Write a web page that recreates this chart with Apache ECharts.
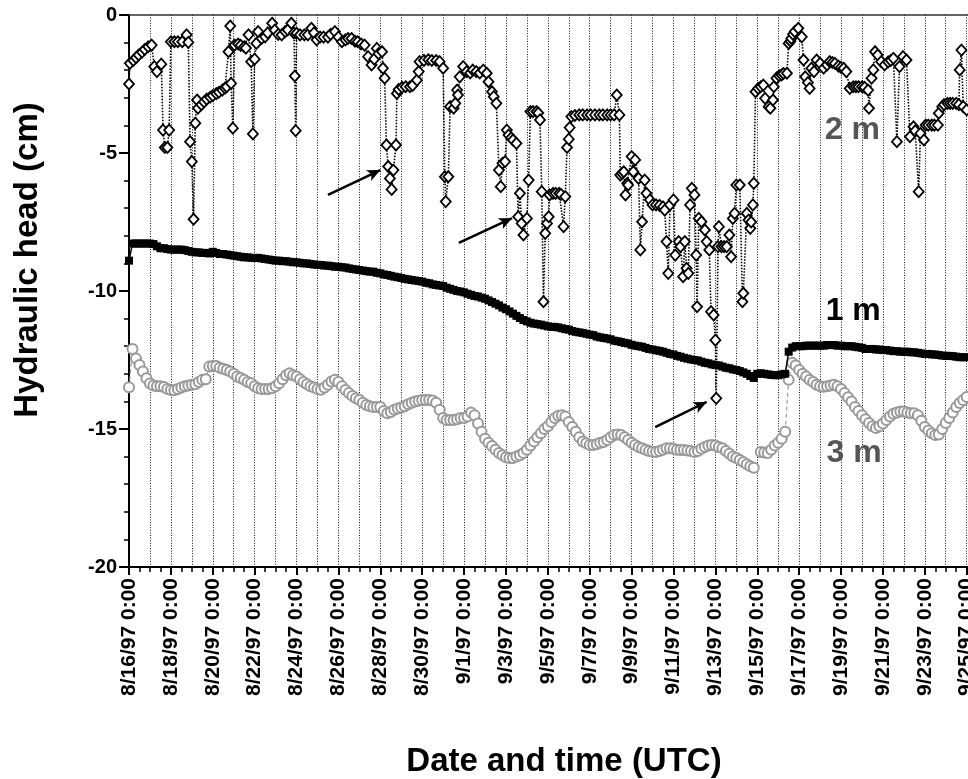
<!DOCTYPE html>
<html><head><meta charset="utf-8">
<script src="https://cdn.jsdelivr.net/npm/echarts@6/dist/echarts.min.js"></script>
<style>html,body{margin:0;padding:0;background:#fff}#c{width:968px;height:779px}</style>
</head><body><div id="c"></div>
<script>
// ---------- data (hours since 8/16/97 0:00 UTC) ----------
const STEP_H = 4; // 1 m and 3 m are given every 4 hours
const tickLabels = ['8/16/97 0:00','8/18/97 0:00','8/20/97 0:00','8/22/97 0:00','8/24/97 0:00','8/26/97 0:00','8/28/97 0:00','8/30/97 0:00','9/1/97 0:00','9/3/97 0:00','9/5/97 0:00','9/7/97 0:00','9/9/97 0:00','9/11/97 0:00','9/13/97 0:00','9/15/97 0:00','9/17/97 0:00','9/19/97 0:00','9/21/97 0:00','9/23/97 0:00','9/25/97 0:00'];

const m1Values = [
-8.9,-8.28,-8.28,-8.28,-8.28,-8.28,
-8.28,-8.3,-8.38,-8.45,-8.45,-8.48,
-8.5,-8.5,-8.5,-8.5,-8.52,-8.55,
-8.58,-8.6,-8.6,-8.62,-8.62,-8.64,
-8.58,-8.62,-8.66,-8.66,-8.68,-8.7,
-8.72,-8.74,-8.76,-8.78,-8.78,-8.8,
-8.8,-8.8,-8.82,-8.84,-8.86,-8.88,
-8.9,-8.9,-8.92,-8.92,-8.94,-8.96,
-8.96,-8.98,-9.0,-9.0,-9.02,-9.04,
-9.05,-9.06,-9.08,-9.08,-9.1,-9.12,
-9.12,-9.14,-9.15,-9.18,-9.2,-9.22,
-9.24,-9.26,-9.28,-9.3,-9.3,-9.34,
-9.36,-9.4,-9.42,-9.45,-9.48,-9.5,
-9.53,-9.56,-9.58,-9.6,-9.62,-9.64,
-9.66,-9.7,-9.72,-9.76,-9.78,-9.8,
-9.82,-9.88,-9.92,-9.96,-10.0,-10.02,
-10.05,-10.1,-10.14,-10.18,-10.2,-10.24,
-10.28,-10.34,-10.4,-10.46,-10.52,-10.6,
-10.66,-10.74,-10.82,-10.9,-10.98,-11.05,
-11.1,-11.15,-11.18,-11.2,-11.22,-11.25,
-11.28,-11.3,-11.3,-11.32,-11.35,-11.38,
-11.4,-11.45,-11.48,-11.5,-11.52,-11.55,
-11.58,-11.6,-11.65,-11.68,-11.7,-11.72,
-11.75,-11.8,-11.82,-11.85,-11.88,-11.9,
-11.95,-11.98,-12.0,-12.02,-12.06,-12.1,
-12.12,-12.15,-12.17,-12.2,-12.24,-12.28,
-12.3,-12.35,-12.38,-12.42,-12.45,-12.48,
-12.5,-12.52,-12.56,-12.6,-12.62,-12.66,
-12.68,-12.7,-12.74,-12.78,-12.8,-12.84,
-12.86,-12.9,-12.95,-13.0,-13.08,-13.15,
-13.0,-12.98,-13.0,-13.02,-13.04,-13.05,
-13.05,-13.02,-13.0,-12.2,-12.05,-12.0,
-12.0,-12.0,-11.98,-11.98,-11.98,-11.98,
-11.98,-11.98,-11.96,-11.96,-11.96,-11.98,
-11.98,-12.0,-12.0,-12.0,-12.02,-12.04,
-12.06,-12.1,-12.1,-12.1,-12.12,-12.12,
-12.14,-12.14,-12.16,-12.18,-12.18,-12.2,
-12.2,-12.2,-12.22,-12.22,-12.24,-12.26,
-12.28,-12.28,-12.3,-12.3,-12.32,-12.34,
-12.35,-12.35,-12.36,-12.38,-12.4,-12.4,
-12.4];

const m3Values = [
-13.49,-12.1,-12.45,-12.68,-12.92,-13.16,
-13.35,-13.42,-13.45,-13.45,-13.48,-13.55,
-13.59,-13.6,-13.55,-13.5,-13.45,-13.42,
-13.4,-13.38,-13.3,-13.22,-13.2,-12.74,
-12.72,-12.72,-12.78,-12.82,-12.86,-12.92,
-13.0,-13.1,-13.15,-13.22,-13.3,-13.34,
-13.45,-13.52,-13.55,-13.55,-13.55,-13.52,
-13.45,-13.34,-13.2,-13.05,-12.98,-13.05,
-13.1,-13.2,-13.3,-13.38,-13.45,-13.5,
-13.55,-13.58,-13.5,-13.4,-13.28,-13.22,
-13.3,-13.45,-13.59,-13.7,-13.8,-13.89,
-13.95,-14.05,-14.13,-14.18,-14.2,-14.2,
-14.2,-14.35,-14.43,-14.38,-14.3,-14.26,
-14.22,-14.18,-14.1,-14.05,-14.0,-13.98,
-13.95,-13.95,-13.95,-13.97,-14.05,-14.3,
-14.6,-14.67,-14.67,-14.67,-14.65,-14.6,
-14.6,-14.55,-14.4,-14.5,-14.8,-15.1,
-15.35,-15.5,-15.62,-15.75,-15.87,-15.95,
-16.02,-16.05,-16.05,-16.0,-15.95,-15.87,
-15.75,-15.6,-15.45,-15.3,-15.15,-15.0,
-14.9,-14.75,-14.6,-14.52,-14.5,-14.55,
-14.75,-14.93,-15.1,-15.3,-15.45,-15.52,
-15.58,-15.58,-15.55,-15.5,-15.47,-15.4,
-15.3,-15.22,-15.2,-15.22,-15.3,-15.4,
-15.5,-15.58,-15.65,-15.7,-15.75,-15.8,
-15.82,-15.83,-15.8,-15.75,-15.7,-15.7,
-15.72,-15.75,-15.76,-15.76,-15.78,-15.8,
-15.83,-15.8,-15.72,-15.65,-15.6,-15.58,
-15.6,-15.65,-15.7,-15.8,-15.9,-16.0,
-16.05,-16.12,-16.2,-16.28,-16.35,-16.4,
null,-15.83,-15.85,-15.87,-15.75,-15.6,
-15.5,-15.35,-15.1,-13.22,-12.6,-12.7,
-12.86,-13.0,-13.1,-13.22,-13.3,-13.4,
-13.45,-13.47,-13.45,-13.42,-13.4,-13.45,
-13.55,-13.7,-13.85,-14.0,-14.2,-14.35,
-14.5,-14.65,-14.78,-14.9,-14.96,-14.9,
-14.8,-14.67,-14.55,-14.45,-14.4,-14.37,
-14.37,-14.4,-14.43,-14.43,-14.5,-14.7,
-14.93,-15.05,-15.15,-15.22,-15.2,-15.0,
-14.78,-14.6,-14.4,-14.2,-14.06,-13.95,
-13.84];

// 2 m: [hours, head]
const m2Points = [
[0,-2.5],[1,-1.75],[5,-1.65],[8,-1.55],[11,-1.45],[15,-1.35],[18,-1.25],[22,-1.15],[26,-1.09],[29,-1.87],[32,-2.05],[37,-1.78],[39,-4.17],[41,-4.8],[44,-4.8],[46,-4.17],[48,-0.97],[52,-0.97],[56,-0.97],[61,-0.97],[66,-0.72],[68,-0.99],[70,-4.59],[72,-5.31],[74,-7.4],[76,-3.92],[78,-3.08],[79,-3.38],[83,-3.25],[86,-3.15],[89,-3.05],[93,-2.98],[96,-2.92],[100,-2.85],[103,-2.8],[107,-2.72],[110,-2.65],[112,-2.6],[114,-1.33],[116,-0.4],[117,-2.48],[119,-4.1],[121,-1.09],[125,-1.05],[128,-1.1],[132,-1.15],[134,-1.2],[137,-0.72],[140,-1.69],[142,-4.31],[144,-1.6],[146,-1.03],[148,-0.6],[152,-0.85],[156,-0.79],[159,-0.65],[164,-0.3],[167,-0.55],[171,-0.7],[175,-0.72],[179,-0.6],[182,-0.54],[186,-0.3],[189,-0.65],[190,-2.21],[191,-4.19],[192,-0.66],[196,-0.72],[201,-0.72],[205,-0.72],[209,-0.48],[212,-0.65],[215,-0.9],[219,-0.8],[223,-0.8],[228,-0.8],[231,-0.7],[236,-0.6],[240,-0.8],[244,-0.97],[248,-0.9],[251,-0.85],[255,-0.85],[259,-0.95],[262,-0.97],[266,-1.05],[270,-1.09],[274,-1.51],[278,-1.81],[281,-1.6],[284,-1.21],[286,-1.4],[290,-1.33],[291,-1.93],[293,-2.29],[295,-4.71],[297,-5.49],[299,-5.92],[301,-6.32],[303,-5.62],[306,-4.71],[307,-2.84],[309,-2.7],[313,-2.62],[317,-2.6],[322,-2.6],[325,-2.55],[330,-2.36],[332,-2.05],[333,-1.69],[338,-1.65],[343,-1.62],[347,-1.65],[352,-1.65],[356,-1.69],[360,-1.93],[362,-5.86],[363,-6.76],[366,-5.86],[368,-3.32],[372,-3.38],[374,-3.2],[376,-2.72],[377,-2.9],[379,-2.24],[383,-1.87],[387,-2.05],[391,-2.1],[394,-2.0],[398,-2.05],[402,-2.1],[406,-2.0],[410,-2.11],[412,-2.42],[416,-2.78],[418,-2.96],[421,-3.2],[424,-5.62],[426,-6.22],[428,-5.37],[431,-5.31],[433,-4.17],[435,-4.35],[438,-4.45],[440,-4.53],[444,-4.65],[446,-7.31],[448,-6.46],[450,-7.55],[452,-7.97],[456,-7.37],[458,-5.98],[460,-3.5],[463,-3.5],[467,-3.5],[469,-3.55],[471,-3.8],[473,-6.4],[475,-10.39],[477,-7.91],[479,-7.55],[481,-7.31],[482,-6.52],[486,-6.46],[489,-6.46],[493,-6.46],[495,-6.5],[498,-7.67],[500,-6.58],[502,-4.8],[504,-4.5],[505,-4.08],[507,-3.68],[511,-3.64],[516,-3.62],[520,-3.62],[525,-3.62],[529,-3.62],[534,-3.62],[539,-3.62],[543,-3.62],[548,-3.62],[552,-3.62],[556,-3.62],[559,-2.9],[562,-3.62],[563,-5.8],[565,-5.74],[567,-5.68],[569,-6.52],[571,-6.1],[572,-6.16],[576,-5.13],[578,-5.68],[580,-5.25],[584,-5.92],[586,-8.51],[588,-7.49],[591,-5.98],[593,-6.46],[597,-6.7],[600,-6.88],[604,-6.88],[608,-6.9],[612,-6.95],[614,-7.07],[616,-8.21],[618,-9.36],[620,-6.88],[624,-6.7],[626,-8.7],[630,-8.21],[632,-8.39],[635,-9.48],[637,-8.21],[639,-9.18],[641,-9.36],[643,-6.88],[645,-6.28],[648,-6.52],[650,-8.7],[651,-10.57],[653,-7.37],[656,-7.49],[660,-7.79],[662,-8.21],[665,-8.51],[667,-10.75],[670,-10.87],[672,-11.78],[673,-13.89],[675,-8.39],[676,-7.67],[679,-8.39],[682,-8.39],[685,-8.39],[688,-7.97],[690,-8.76],[692,-7.37],[694,-7.19],[696,-6.16],[700,-6.16],[703,-10.39],[704,-10.08],[708,-7.19],[710,-7.43],[712,-7.73],[713,-7.5],[715,-6.88],[716,-6.1],[718,-2.78],[721,-2.66],[724,-2.6],[727,-2.54],[729,-3.02],[733,-3.32],[735,-3.38],[738,-3.08],[739,-2.6],[742,-2.29],[745,-2.2],[748,-2.17],[750,-2.12],[754,-2.11],[756,-1.03],[758,-0.95],[759,-0.85],[761,-0.7],[763,-0.6],[767,-0.48],[771,-0.79],[773,-1.63],[775,-2.24],[778,-2.45],[780,-2.66],[782,-1.93],[785,-2.05],[788,-1.63],[792,-1.75],[796,-1.93],[800,-1.81],[803,-1.69],[806,-1.72],[809,-1.75],[813,-1.85],[816,-1.9],[819,-1.93],[822,-2.05],[826,-2.66],[830,-2.6],[833,-2.6],[836,-2.6],[840,-2.6],[843,-2.62],[847,-2.72],[848,-3.38],[851,-2.29],[853,-1.99],[855,-1.33],[858,-1.45],[862,-1.69],[866,-1.81],[870,-1.7],[873,-1.65],[876,-1.57],[880,-4.59],[883,-1.87],[887,-1.51],[891,-1.63],[895,-4.41],[899,-4.05],[901,-4.2],[905,-6.4],[907,-4.29],[911,-4.53],[913,-3.99],[916,-3.99],[920,-3.99],[923,-3.99],[927,-3.99],[928,-3.56],[932,-3.32],[934,-3.25],[938,-3.2],[941,-3.2],[944,-3.2],[948,-3.2],[951,-3.25],[952,-1.99],[954,-1.27],[956,-3.32],[960,-3.44]
];

// annotations in data units (hours, head)
const annoText  = ['2 m', '1 m', '3 m'];
const annoHour  = [829, 830, 831];
const annoHead  = [-4.18, -10.74, -15.89];
const arrowFrom = [[228, -6.52], [378, -8.26], [603, -14.93]];
const arrowTo   = [[288, -5.62], [439, -7.36], [662, -14.02]];

// ---------- chart ----------
const X_MIN = 0, X_MAX = 961.5;
const FONT = '"Liberation Sans", Arial, Helvetica, sans-serif';
const chart = echarts.init(document.getElementById('c'), null, {renderer: 'canvas'});

const m1Data = m1Values.map((v, i) => [i * STEP_H, v]);
const m3Data = m3Values.map((v, i) => [i * STEP_H, v]);
const annoColors = ['#555555', '#000000', '#555555'];

chart.setOption({
  animation: false,
  backgroundColor: '#ffffff',
  grid: {left: 129, top: 15, right: 0, bottom: 212, containLabel: false, outerBoundsMode: 'none'},
  xAxis: [
    { // day grid + 12 h minor ticks
      type: 'value', position: 'bottom', min: X_MIN, max: X_MAX, interval: 24,
      axisLine: {show: true, onZero: false, lineStyle: {color: '#000', width: 2}},
      axisTick: {show: true, length: 5, lineStyle: {color: '#000', width: 1.5}},
      minorTick: {show: true, splitNumber: 2, length: 5, lineStyle: {color: '#000', width: 1.5}},
      axisLabel: {show: false},
      splitLine: {show: true, lineStyle: {color: '#111', width: 1, type: [1, 1.6]}}
    },
    { // labelled 2-day ticks
      type: 'value', position: 'bottom', min: X_MIN, max: X_MAX, interval: 48,
      axisLine: {show: false, onZero: false},
      axisTick: {show: true, length: 8, lineStyle: {color: '#000', width: 2}},
      splitLine: {show: false},
      axisLabel: {
        show: true, rotate: 90, margin: 11, color: '#000', fontSize: 21, fontWeight: 'bold', fontFamily: FONT,
        formatter: function (v) { const i = Math.round(v / 48); return Math.abs(v - i * 48) < 0.01 && tickLabels[i] ? tickLabels[i] : ''; }
      }
    },
    { // top frame
      type: 'value', position: 'top', min: X_MIN, max: X_MAX,
      axisLine: {show: true, onZero: false, lineStyle: {color: '#333', width: 1.5}},
      axisTick: {show: false}, axisLabel: {show: false}, splitLine: {show: false}
    }
  ],
  yAxis: {
    type: 'value', min: -20, max: 0, interval: 5,
    axisLine: {show: true, onZero: false, lineStyle: {color: '#000', width: 2}},
    axisTick: {show: true, length: 10, lineStyle: {color: '#000', width: 2}},
    minorTick: {show: true, splitNumber: 5, length: 5, lineStyle: {color: '#000', width: 1.5}},
    splitLine: {show: false},
    axisLabel: {color: '#000', fontSize: 20, fontWeight: 'bold', fontFamily: FONT, margin: 12}
  },
  series: [
    {
      name: '3 m', type: 'line', data: m3Data, z: 2,
      symbol: 'circle', symbolSize: 10, showAllSymbol: true, connectNulls: false,
      itemStyle: {color: '#ffffff', borderColor: '#999999', borderWidth: 2},
      lineStyle: {color: '#999999', width: 1.2, type: [4, 3]}
    },
    {
      name: '1 m', type: 'line', data: m1Data, z: 3,
      symbol: 'rect', symbolSize: 8, showAllSymbol: true,
      itemStyle: {color: '#000000'},
      lineStyle: {color: '#000000', width: 1.5},
      markLine: {
        silent: true, symbol: ['none', 'arrow'], symbolSize: [9, 13],
        label: {show: false},
        lineStyle: {color: '#000', width: 2.5, type: 'solid'},
        data: arrowFrom.map((p, i) => [{coord: p}, {coord: arrowTo[i]}])
      }
    },
    {
      name: '2 m', type: 'line', data: m2Points, z: 4,
      symbol: 'diamond', symbolSize: [10, 11], showAllSymbol: true,
      itemStyle: {color: '#ffffff', borderColor: '#000000', borderWidth: 1.8},
      lineStyle: {color: '#000000', width: 1.6, type: [1.5, 1.5]},
      markPoint: {
        silent: true, symbol: 'rect', symbolSize: 1,
        itemStyle: {color: 'rgba(0,0,0,0)'},
        data: annoText.map((t, i) => ({
          coord: [annoHour[i], annoHead[i]], value: t,
          label: {show: true, position: 'inside', formatter: t, color: annoColors[i], fontSize: 32, fontWeight: 'bold', fontFamily: FONT}
        }))
      }
    }
  ],
  graphic: [
    {type: 'text', x: 28, y: 260, rotation: Math.PI / 2,
     style: {text: 'Hydraulic head (cm)', font: 'bold 33px ' + FONT, fill: '#000', align: 'center', verticalAlign: 'middle', textAlign: 'center', textVerticalAlign: 'middle'}},
    {type: 'text', x: 564, y: 762,
     style: {text: 'Date and time (UTC)', font: 'bold 33px ' + FONT, fill: '#000', align: 'center', verticalAlign: 'middle', textAlign: 'center', textVerticalAlign: 'middle'}}
  ]
});
</script></body></html>
